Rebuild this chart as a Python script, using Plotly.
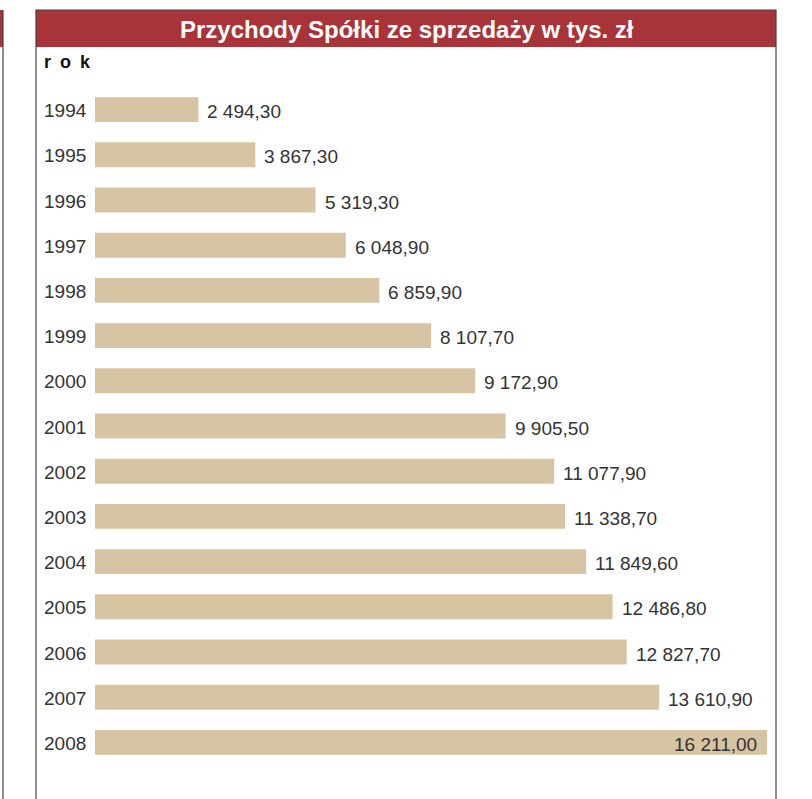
import plotly.graph_objects as go

years = ["1994", "1995", "1996", "1997", "1998", "1999", "2000", "2001",
         "2002", "2003", "2004", "2005", "2006", "2007", "2008"]
revenue = [2494.30, 3867.30, 5319.30, 6048.90, 6859.90, 8107.70, 9172.90, 9905.50,
           11077.90, 11338.70, 11849.60, 12486.80, 12827.70, 13610.90, 16211.00]
title_text = "Przychody Spółki ze sprzedaży w tys. zł"
axis_label = "r\u2002o\u2002k"

def fmt(v):
    s = f"{v:,.2f}"
    return s.replace(",", " ").replace(".", ",")

W, H = 812, 799
L, R = 95, 767        # plot area left/right pixel
T, Bp = 87, 765       # plot area top/bottom pixel
MB = H - Bp

fig = go.Figure()
fig.add_trace(go.Bar(
    x=revenue, y=years, orientation="h",
    marker=dict(color="#D7C4A3", line=dict(width=0)),
    width=0.55, hoverinfo="skip",
))

def px(xp):
    return (xp - L) / (R - L)

def pyp(yp):
    return (Bp - yp) / (Bp - T)

ann = []
n = len(years)
for i, (yr, v) in enumerate(zip(years, revenue)):
    last = i == n - 1
    # on a category axis annotation positions are category serial numbers
    ann.append(dict(
        x=v, y=i, xref="x", yref="y", text=fmt(v), showarrow=False,
        xanchor="right" if last else "left", xshift=-8 if last else 7, yshift=-2,
        font=dict(family="Liberation Sans, Arial", size=19, color="#333333"),
    ))
    ann.append(dict(
        x=px(42), y=i, xref="paper", yref="y", text=yr, showarrow=False,
        xanchor="left", yshift=-1,
        font=dict(family="Liberation Sans, Arial", size=19, color="#333333"),
    ))

ann.append(dict(
    x=px(42), y=pyp(62), xref="paper", yref="paper", text="<b>" + axis_label + "</b>",
    showarrow=False, xanchor="left", yanchor="middle",
    font=dict(family="Liberation Sans, Arial", size=18, color="#111111"),
))
ann.append(dict(
    x=px(407), y=pyp(29), xref="paper", yref="paper", text="<b>" + title_text + "</b>",
    showarrow=False, xanchor="center", yanchor="middle",
    font=dict(family="Liberation Sans, Arial", size=24, color="white"),
))

shapes = [
    dict(type="rect", xref="paper", yref="paper", x0=px(-5), x1=px(3), y0=pyp(47), y1=pyp(10),
         fillcolor="#A8343A", line=dict(width=0), layer="below"),
    dict(type="line", xref="paper", yref="paper", x0=px(3), x1=px(3), y0=pyp(10), y1=pyp(805),
         line=dict(color="#444444", width=1.2)),
    dict(type="rect", xref="paper", yref="paper", x0=px(36), x1=px(776), y0=pyp(47), y1=pyp(10),
         fillcolor="#A8343A", line=dict(width=0), layer="below"),
    dict(type="rect", xref="paper", yref="paper", x0=px(36), x1=px(776), y0=pyp(805), y1=pyp(10),
         fillcolor="rgba(0,0,0,0)", line=dict(color="#444444", width=1.2), layer="below"),
]

fig.update_layout(
    width=W, height=H,
    margin=dict(l=L, r=W - R, t=T, b=MB),
    paper_bgcolor="white", plot_bgcolor="rgba(0,0,0,0)",
    showlegend=False,
    xaxis=dict(range=[0, 16211], visible=False, fixedrange=True),
    yaxis=dict(type="category", categoryorder="array", categoryarray=years,
               range=[n - 0.5, -0.5], showticklabels=False, showgrid=False,
               zeroline=False, showline=False, ticks="", fixedrange=True),
    annotations=ann, shapes=shapes,
)

fig.write_html("out.html")
